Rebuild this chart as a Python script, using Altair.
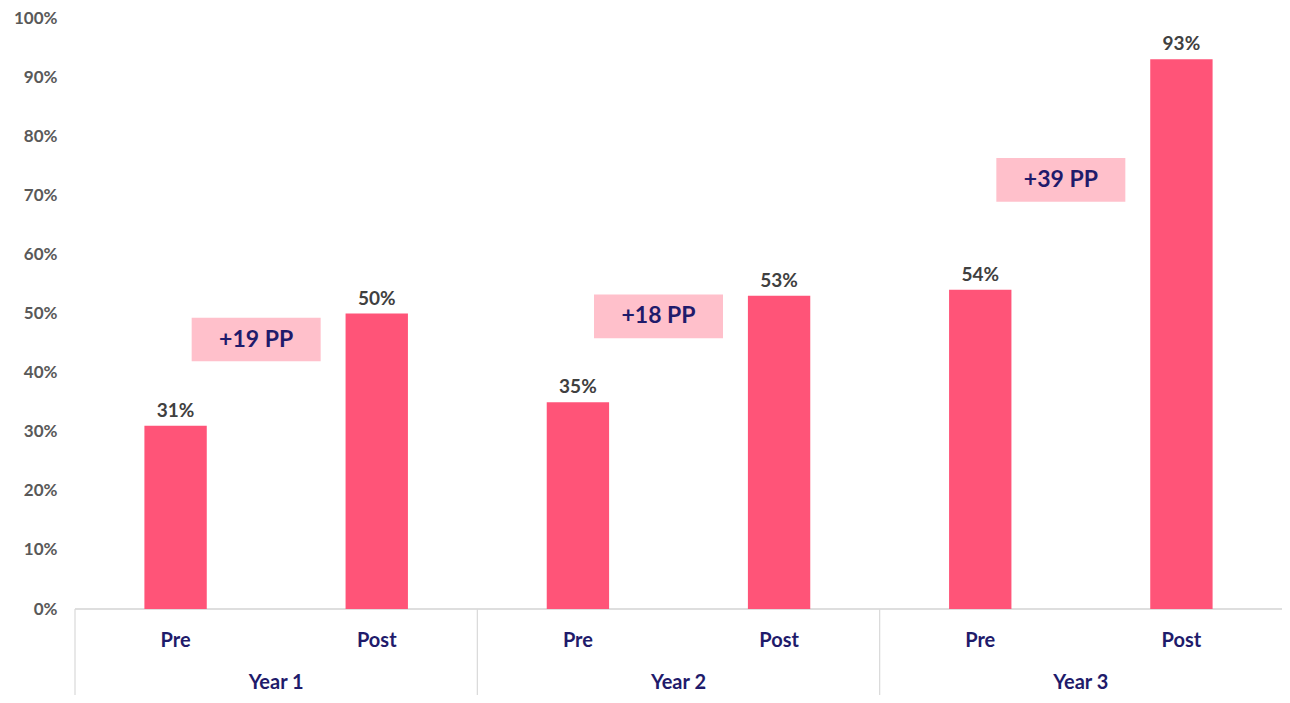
import altair as alt
import pandas as pd

years = ["Year 1", "Year 2", "Year 3"]
phases = ["Pre", "Post"]
pre_values = [0.31, 0.35, 0.54]
post_values = [0.50, 0.53, 0.93]
change_labels = ["+19 PP", "+18 PP", "+39 PP"]
change_label_level = [0.456, 0.495, 0.726]
y_ticks = [0, 0.1, 0.2, 0.3, 0.4, 0.5, 0.6, 0.7, 0.8, 0.9, 1.0]

W, H = 1207, 591
BAR = "#FF5478"
NAVY = "#1F1B6B"
PINK = "#FFC0CB"
FONT = "Lato"

rows = []
for i, y in enumerate(years):
    rows.append({"year": y, "phase": "Pre", "value": pre_values[i]})
    rows.append({"year": y, "phase": "Post", "value": post_values[i]})
bars_df = pd.DataFrame(rows)
box_half = 0.037
ann_df = pd.DataFrame({
    "year": years,
    "label": change_labels,
    "mid": change_label_level,
    "lo": [v - box_half for v in change_label_level],
    "hi": [v + box_half for v in change_label_level],
})
year_df = pd.DataFrame({"year": years})

xs = alt.Scale(domain=years, paddingInner=0, paddingOuter=0)
xo = alt.Scale(domain=phases, paddingInner=0.69, paddingOuter=0.345)
ys = alt.Scale(domain=[0, 1], nice=False)

X = alt.X("year:N", scale=xs, axis=None, sort=years)
XO = alt.XOffset("phase:N", scale=xo, sort=phases)

bars = alt.Chart(bars_df).mark_bar(color=BAR).encode(
    x=X, xOffset=XO,
    y=alt.Y("value:Q", scale=ys,
            axis=alt.Axis(values=y_ticks, format=".0%", domain=False, ticks=False, grid=False,
                          labelFont=FONT, labelFontWeight="bold", labelFontSize=17,
                          labelColor="#595959", labelPadding=18, title=None)),
)
value_text = alt.Chart(bars_df).mark_text(baseline="bottom", dy=-5, font=FONT, fontWeight="bold",
                                          fontSize=19, color="#404040").encode(
    x=X, xOffset=XO, y=alt.Y("value:Q", scale=ys), text=alt.Text("value:Q", format=".0%"))

boxes = alt.Chart(ann_df).mark_bar(width=129, xOffset=-20, color=PINK).encode(
    x=X, y=alt.Y("lo:Q", scale=ys), y2="hi:Q")
box_text = alt.Chart(ann_df).mark_text(xOffset=-20, font=FONT, fontWeight="bold", fontSize=23,
                                       color=NAVY).encode(
    x=X, y=alt.Y("mid:Q", scale=ys), text="label:N")

phase_text = alt.Chart(bars_df).mark_text(font=FONT, fontWeight="bold", fontSize=20, color=NAVY).encode(
    x=X, xOffset=XO, y=alt.value(H + 32), text="phase:N")
year_text = alt.Chart(year_df).mark_text(font=FONT, fontWeight="bold", fontSize=20, color=NAVY).encode(
    x=X, y=alt.value(H + 74), text="year:N")

seps = alt.Chart(year_df).mark_rule(color="#D9D9D9", strokeWidth=1.2).encode(
    x=alt.X("year:N", scale=xs, axis=None, sort=years, bandPosition=0),
    y=alt.value(H), y2=alt.value(H + 86))
base_line = alt.Chart(year_df).mark_rule(color="#D9D9D9", strokeWidth=1.2).encode(
    x=alt.value(0), x2=alt.value(W), y=alt.value(H))

chart = alt.layer(seps, base_line, bars, value_text, boxes, box_text, phase_text, year_text).properties(
    width=W, height=H,
    autosize=alt.AutoSizeParams(type="none"),
    padding={"left": 67, "top": 10, "right": 0, "bottom": 86},
).configure_view(stroke=None)

chart.save("out.html", embed_options={"renderer": "svg", "actions": False})
